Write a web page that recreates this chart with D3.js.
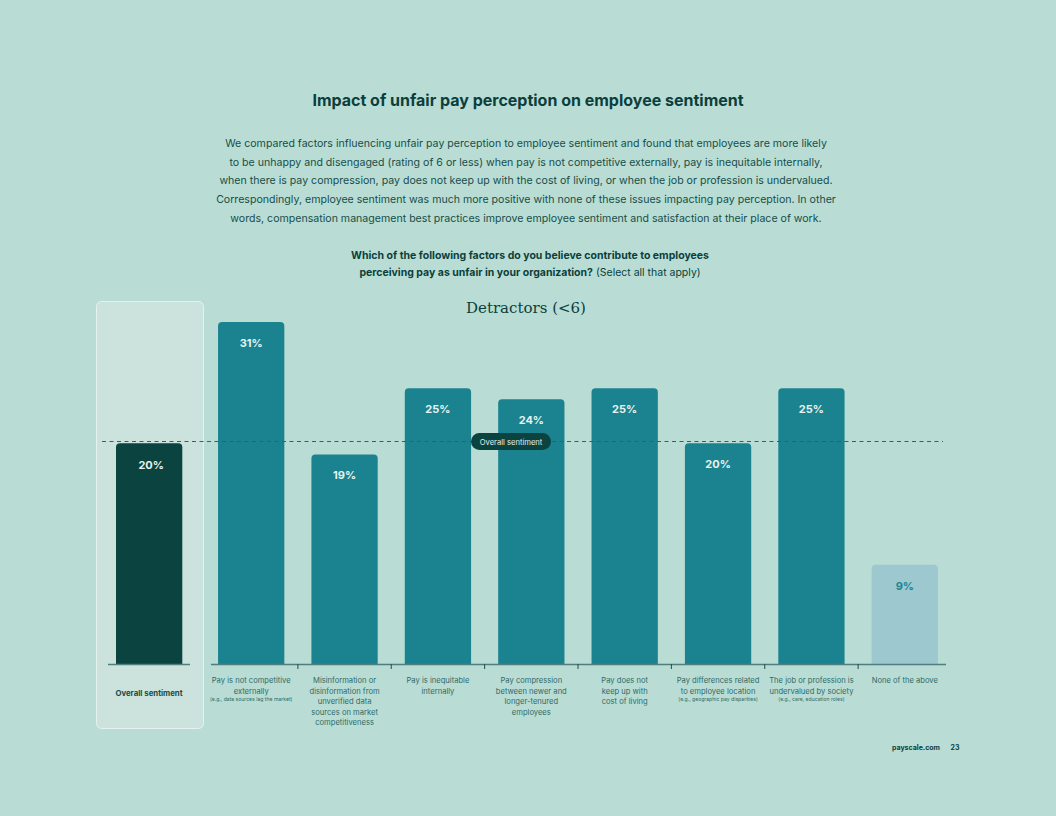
<!DOCTYPE html>
<html>
<head>
<meta charset="utf-8">
<script src="https://cdn.jsdelivr.net/npm/d3@7/dist/d3.min.js"></script>
<style>
  body { margin: 0; padding: 0; background: #b9ddd4; }
  svg { display: block; font-family: Inter, "Noto Sans", sans-serif; }
</style>
</head>
<body>
<div id="chart"></div>
<script>
// --- data ---
var categories = [
  "Pay is not competitive externally",
  "Misinformation or disinformation from unverified data sources on market competitiveness",
  "Pay is inequitable internally",
  "Pay compression between newer and longer-tenured employees",
  "Pay does not keep up with cost of living",
  "Pay differences related to employee location",
  "The job or profession is undervalued by society",
  "None of the above"
];
var labelLines = [
  ["Pay is not competitive", "externally"],
  ["Misinformation or", "disinformation from", "unverified data", "sources on market", "competitiveness"],
  ["Pay is inequitable", "internally"],
  ["Pay compression", "between newer and", "longer-tenured", "employees"],
  ["Pay does not", "keep up with", "cost of living"],
  ["Pay differences related", "to employee location"],
  ["The job or profession is", "undervalued by society"],
  ["None of the above"]
];
var notes = [
  "(e.g., data sources lag the market)", "", "", "", "",
  "(e.g., geographic pay disparities)",
  "(e.g., care, education roles)", ""
];
var values = [31, 19, 25, 24, 25, 20, 25, 9];
var overallValue = 20;
var overallLabel = "Overall sentiment";

var paragraph = [
  "We compared factors influencing unfair pay perception to employee sentiment and found that employees are more likely",
  "to be unhappy and disengaged (rating of 6 or less) when pay is not competitive externally, pay is inequitable internally,",
  "when there is pay compression, pay does not keep up with the cost of living, or when the job or profession is undervalued.",
  "Correspondingly, employee sentiment was much more positive with none of these issues impacting pay perception. In other",
  "words, compensation management best practices improve employee sentiment and satisfaction at their place of work."
];

var W = 1056, H = 816;
var dark = "#0b4340", teal = "#1b8390", pale = "#9dc8cf", textCol = "#2f6a68";

var svg = d3.select("#chart").append("svg")
  .attr("width", W).attr("height", H);

svg.append("rect").attr("width", W).attr("height", H).attr("fill", "#b9ddd4");

// header texts
svg.append("text")
  .attr("x", 528).attr("y", 106)
  .attr("text-anchor", "middle")
  .attr("font-size", 16).attr("font-weight", 700)
  .attr("fill", "#0b3f3d")
  .text("Impact of unfair pay perception on employee sentiment");

svg.selectAll(".para").data(paragraph).enter().append("text")
  .attr("x", 526)
  .attr("y", function(d, i) { return 147 + i * 18.7; })
  .attr("text-anchor", "middle")
  .attr("font-size", 10.6)
  .attr("fill", "#174d4a")
  .text(function(d) { return d; });

var q1 = svg.append("text").attr("x", 530).attr("y", 259)
  .attr("text-anchor", "middle").attr("font-size", 10.5).attr("fill", "#0b3f3d");
q1.append("tspan").attr("font-weight", 700)
  .text("Which of the following factors do you believe contribute to employees");
var q2 = svg.append("text").attr("x", 530).attr("y", 276)
  .attr("text-anchor", "middle").attr("font-size", 10.5).attr("fill", "#0b3f3d");
q2.append("tspan").attr("font-weight", 700).text("perceiving pay as unfair in your organization?");
q2.append("tspan").text(" (Select all that apply)");

// scales
var baseY = 664;
var y = d3.scaleLinear().domain([0, 31]).range([baseY, 322]);
var x = d3.scaleBand().domain(categories).range([204.5, 951.5]).paddingInner(0.29).paddingOuter(0.145);

// overall panel
svg.append("rect")
  .attr("x", 96.5).attr("y", 301.5).attr("width", 107).attr("height", 427)
  .attr("rx", 5)
  .attr("fill", "#cbe3dc").attr("stroke", "#e6f2ee").attr("stroke-width", 1);

var ox = 116, ow = x.bandwidth();
svg.append("path")
  .attr("d", roundTop(ox, y(overallValue), ow, baseY - y(overallValue), 4))
  .attr("fill", dark);
svg.append("text")
  .attr("x", ox + ow / 2 + 2).attr("y", y(overallValue) + 26)
  .attr("text-anchor", "middle").attr("font-size", 11).attr("font-weight", 700)
  .attr("fill", "#e8f3f0").text(overallValue + "%");
svg.append("line")
  .attr("x1", 108).attr("x2", 190).attr("y1", baseY + 0.5).attr("y2", baseY + 0.5)
  .attr("stroke", "#4e7f7d").attr("stroke-width", 1.5);
svg.append("text")
  .attr("x", 149).attr("y", 696)
  .attr("text-anchor", "middle").attr("font-size", 7.8).attr("font-weight", 700)
  .attr("fill", "#174d4a").text(overallLabel);

// chart subtitle
svg.append("text")
  .attr("x", 526).attr("y", 313)
  .attr("text-anchor", "middle")
  .attr("font-family", "'DejaVu Serif', 'Liberation Serif', serif")
  .attr("font-size", 15).attr("fill", "#0b3f3d")
  .text("Detractors (<6)");

// bars
function roundTop(x0, y0, w, h, r) {
  return "M" + x0 + "," + (y0 + h) +
    "V" + (y0 + r) + "Q" + x0 + "," + y0 + " " + (x0 + r) + "," + y0 +
    "H" + (x0 + w - r) + "Q" + (x0 + w) + "," + y0 + " " + (x0 + w) + "," + (y0 + r) +
    "V" + (y0 + h) + "Z";
}

var last = categories.length - 1;
svg.selectAll(".bar").data(values).enter().append("path")
  .attr("d", function(d, i) {
    return roundTop(x(categories[i]), y(d), x.bandwidth(), baseY - y(d), 4);
  })
  .attr("fill", function(d, i) { return i === last ? pale : teal; });

svg.selectAll(".val").data(values).enter().append("text")
  .attr("x", function(d, i) { return x(categories[i]) + x.bandwidth() / 2; })
  .attr("y", function(d) { return y(d) + 25; })
  .attr("text-anchor", "middle").attr("font-size", 11).attr("font-weight", 700)
  .attr("fill", function(d, i) { return i === last ? teal : "#e8f3f0"; })
  .text(function(d) { return d + "%"; });

// x axis
var axis = d3.axisBottom(x).tickSize(0).tickFormat("");
var gAxis = svg.append("g").attr("transform", "translate(0," + (baseY + 0.5) + ")").call(axis);
gAxis.select(".domain").attr("d", "M211,0H946").attr("stroke", "#4e7f7d").attr("stroke-width", 1.5);

// ticks between bands
svg.selectAll(".sep").data(categories.slice(1)).enter().append("line")
  .attr("x1", function(d) { return x(d) - x.step() * x.paddingInner() / 2; })
  .attr("x2", function(d) { return x(d) - x.step() * x.paddingInner() / 2; })
  .attr("y1", baseY).attr("y2", baseY + 5)
  .attr("stroke", "#1f4f4c").attr("stroke-width", 1);

// category labels
categories.forEach(function(c, i) {
  var cx = x(c) + x.bandwidth() / 2;
  var lines = labelLines[i];
  svg.append("g").selectAll("text").data(lines).enter().append("text")
    .attr("x", cx)
    .attr("y", function(d, j) { return 683 + j * 10.6; })
    .attr("text-anchor", "middle").attr("font-size", 7.6)
    .attr("fill", textCol)
    .text(function(d) { return d; });
  if (notes[i]) {
    svg.append("text")
      .attr("x", cx).attr("y", 683 + lines.length * 10.6 - 3)
      .attr("text-anchor", "middle").attr("font-size", 5.1)
      .attr("fill", textCol).text(notes[i]);
  }
});

// overall sentiment reference line
var refY = Math.round(y(overallValue)) - 1.5;
svg.append("line")
  .attr("x1", 102).attr("x2", 943).attr("y1", refY).attr("y2", refY)
  .attr("stroke", "#2f6462").attr("stroke-width", 1)
  .attr("stroke-dasharray", "4 3.5");

svg.append("rect")
  .attr("x", 471).attr("y", refY - 8.5).attr("width", 80).attr("height", 17)
  .attr("rx", 8.5).attr("fill", dark);
svg.append("text")
  .attr("x", 511).attr("y", refY + 3)
  .attr("text-anchor", "middle").attr("font-size", 7.6)
  .attr("fill", "#e2efec").text(overallLabel);

// footer
svg.append("text").attr("x", 940).attr("y", 750)
  .attr("text-anchor", "end").attr("font-size", 7).attr("font-weight", 700)
  .attr("fill", "#0b3f3d").text("payscale.com");
svg.append("text").attr("x", 955).attr("y", 750)
  .attr("text-anchor", "middle").attr("font-size", 7).attr("font-weight", 700)
  .attr("fill", "#0b3f3d").text("23");
</script>
</body>
</html>
